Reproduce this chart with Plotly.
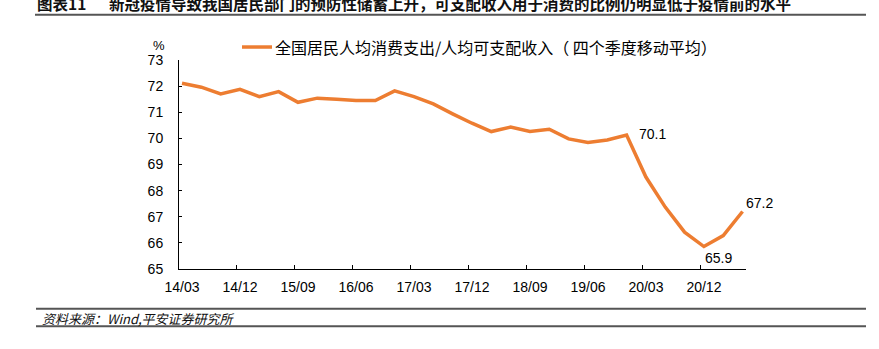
import plotly.graph_objects as go

# ---- data ----
quarters = ["14/03", "14/06", "14/09", "14/12", "15/03", "15/06", "15/09", "15/12",
            "16/03", "16/06", "16/09", "16/12", "17/03", "17/06", "17/09", "17/12",
            "18/03", "18/06", "18/09", "18/12", "19/03", "19/06", "19/09", "19/12",
            "20/03", "20/06", "20/09", "20/12", "21/03", "21/06"]
ratio = [72.11, 71.96, 71.70, 71.88, 71.60, 71.79, 71.38, 71.54,
         71.50, 71.45, 71.45, 71.82, 71.60, 71.32, 70.94, 70.58,
         70.26, 70.43, 70.26, 70.35, 69.98, 69.84, 69.94, 70.13,
         68.52, 67.37, 66.41, 65.86, 66.28, 67.20]
label_quarters = ["19/12", "20/12", "21/06"]
series_name = "全国居民人均消费支出/人均可支配收入（ 四个季度移动平均）"
title_no = "图表11"
title_text = "新冠疫情导致我国居民部门的预防性储蓄上升，可支配收入用于消费的比例仍明显低于疫情前的水平"
source_text = "资料来源：Wind,平安证券研究所"
y_unit = "%"

W, H = 879, 349
L, R = 179.0, 746.0
T, B = 60.0, 269.3
X0, DX = 182.0, 19.33   # pixel of first category, pixels per category

def px(x):
    return (x - L) / (R - L)

def py(y):
    return (B - y) / (B - T)

LAT = "Liberation Sans, Arial, Noto Sans CJK SC, sans-serif"
CJK = "Noto Sans CJK SC, Liberation Sans, sans-serif"
ORANGE = "#ED7D31"

xi = list(range(len(quarters)))
fig = go.Figure()
fig.add_trace(go.Scatter(x=xi, y=ratio, mode="lines", name=series_name,
                         line=dict(color=ORANGE, width=3.5), showlegend=False,
                         hoverinfo="skip"))

tick_idx = list(range(0, 28, 3))
shift = 3.0 / DX
fig.update_xaxes(range=[(L - X0) / DX, (R - X0) / DX],
                 tickvals=[i - shift for i in tick_idx],
                 ticktext=[quarters[i] for i in tick_idx],
                 ticklabelshift=3, ticklabelstandoff=5,
                 ticks="inside", ticklen=4, tickcolor="#000", tickwidth=1,
                 showline=True, linecolor="#000", linewidth=1,
                 showgrid=False, zeroline=False,
                 tickfont=dict(family=LAT, size=14, color="#000"))
fig.update_yaxes(range=[65, 73], dtick=1, tick0=65,
                 ticks="inside", ticklen=3, tickcolor="#000", tickwidth=1,
                 showline=True, linecolor="#000", linewidth=1,
                 showgrid=False, zeroline=False, ticklabelstandoff=12,
                 tickfont=dict(family=LAT, size=14, color="#000"))

# data labels
offsets = {"19/12": (26, 1), "20/12": (15, -11), "21/06": (17, 9)}
for q in label_quarters:
    i = quarters.index(q)
    dx, dy = offsets[q]
    fig.add_annotation(x=i, y=ratio[i], xref="x", yref="y", text=f"{ratio[i]:.1f}",
                       showarrow=False, xshift=dx, yshift=dy,
                       xanchor="center", yanchor="middle",
                       font=dict(family=LAT, size=14, color="#000"))

# % unit
fig.add_annotation(x=px(159), y=py(45), xref="paper", yref="paper", text=y_unit,
                   showarrow=False, xanchor="center", yanchor="middle",
                   font=dict(family=LAT, size=13, color="#000"))

# legend (manual)
fig.add_shape(type="line", xref="paper", yref="paper", x0=px(242), x1=px(272),
              y0=py(47), y1=py(47), line=dict(color=ORANGE, width=3.5))
fig.add_annotation(x=px(273), y=py(47), xref="paper", yref="paper", text=series_name,
                   xanchor="left", yanchor="middle", showarrow=False,
                   font=dict(family=CJK, size=16, color="#000"))

# title
fig.add_annotation(x=px(35), y=py(3), xref="paper", yref="paper", text=title_no,
                   xanchor="left", yanchor="middle", showarrow=False,
                   font=dict(family=CJK, size=15.5, color="#111", weight="bold"))
fig.add_annotation(x=px(107), y=py(3), xref="paper", yref="paper", text=title_text,
                   xanchor="left", yanchor="middle", showarrow=False,
                   font=dict(family=CJK, size=15.5, color="#111", weight="bold"))
fig.add_shape(type="line", xref="paper", yref="paper", x0=px(35), x1=px(866),
              y0=py(14.7), y1=py(14.7), line=dict(color="#555", width=2))

# source
for yy in (309, 326.7):
    fig.add_shape(type="line", xref="paper", yref="paper", x0=px(36), x1=px(866),
                  y0=py(yy), y1=py(yy), line=dict(color="#555", width=2))
fig.add_annotation(x=px(40), y=py(318.5), xref="paper", yref="paper", text=source_text,
                   xanchor="left", yanchor="middle", showarrow=False,
                   font=dict(family=CJK, size=13, color="#111", style="italic"))

fig.update_layout(width=W, height=H, autosize=False,
                  margin=dict(l=L, r=W - R, t=T, b=H - B, pad=0),
                  plot_bgcolor="white", paper_bgcolor="white", showlegend=False)

fig.write_html("out.html", config={"displayModeBar": False})
